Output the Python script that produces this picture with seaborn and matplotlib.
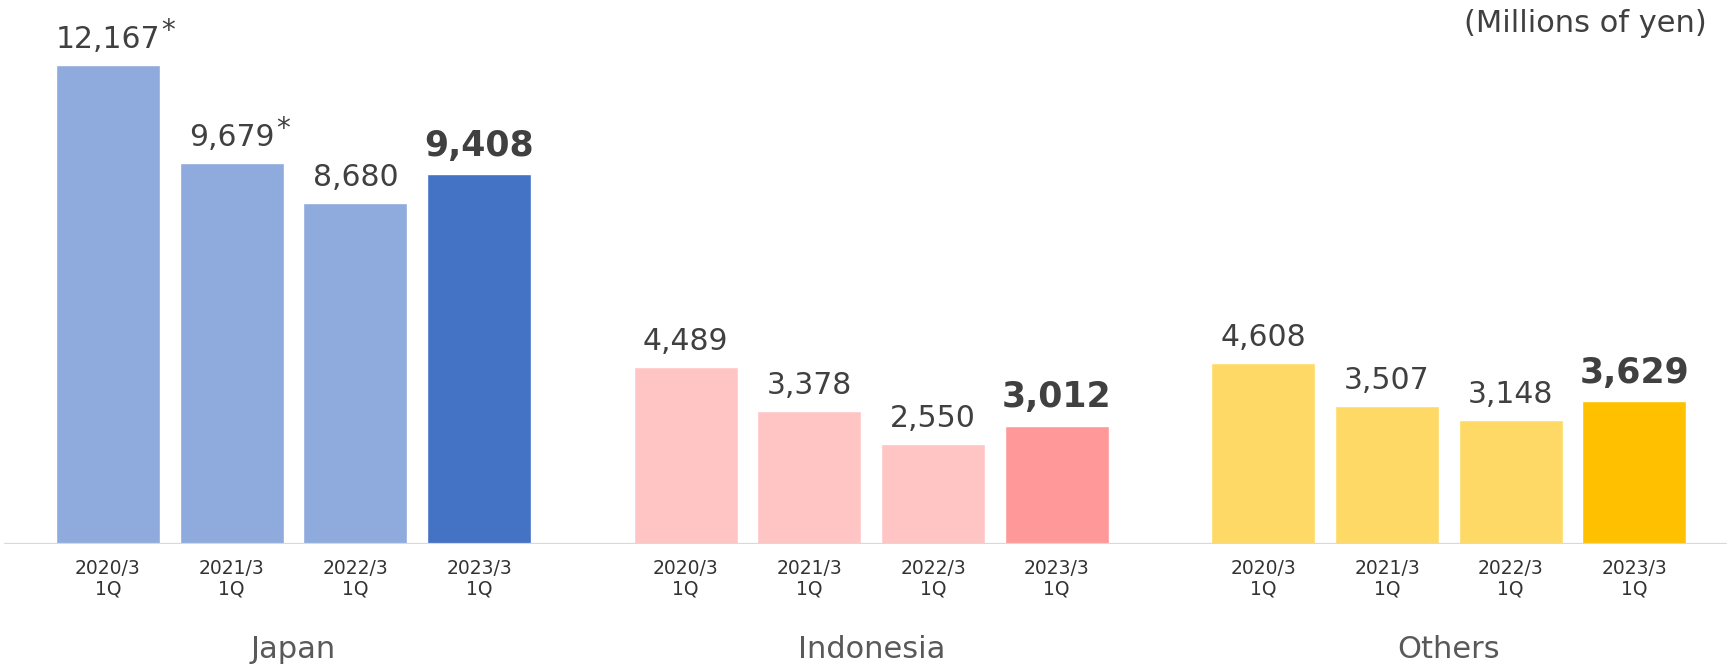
import pandas as pd
import matplotlib
matplotlib.use("Agg")
import matplotlib.pyplot as plt
import matplotlib.transforms as mtransforms
import seaborn as sns

# Data
regions = ["Japan", "Indonesia", "Others"]
periods = ["2020/3\n1Q", "2021/3\n1Q", "2022/3\n1Q", "2023/3\n1Q"]
japan = [12167, 9679, 8680, 9408]
indonesia = [4489, 3378, 2550, 3012]
others = [4608, 3507, 3148, 3629]
starred = {("Japan", 0), ("Japan", 1)}

light_colors = {"Japan": "#8FAADC", "Indonesia": "#FFC5C5", "Others": "#FFD966"}
dark_colors = {"Japan": "#4472C4", "Indonesia": "#FF9999", "Others": "#FFC000"}

group_step = 4.67  # slot distance between the first bars of neighbouring regions

rows = []
for g, (region, vals) in enumerate(zip(regions, [japan, indonesia, others])):
    for i, (period, v) in enumerate(zip(periods, vals)):
        rows.append({
            "region": region,
            "period": period,
            "idx": i,
            "pos": round(g * group_step + i, 2),
            "value": v,
            "key": f"{region} {i}",
            "color": dark_colors[region] if i == len(periods) - 1 else light_colors[region],
        })
df = pd.DataFrame(rows)

sns.set_style("white")
plt.rcParams["font.family"] = ["DejaVu Sans"]

fig = plt.figure(figsize=(17.33, 6.71), dpi=100)
ax = fig.add_axes([0, 127 / 671, 1, 544 / 671])

sns.barplot(
    data=df, x="pos", y="value", hue="key",
    palette=dict(zip(df["key"], df["color"])),
    native_scale=True, width=0.84, legend=False, saturation=1, ax=ax,
)

ax.set_xlim(-0.873, 13.137)
ax.set_ylim(0, 13832)
for s in ax.spines.values():
    s.set_visible(False)
ax.axhline(0, xmin=5 / 1733, xmax=1726 / 1733, color="#D9D9D9", lw=1.6, zorder=3)
ax.set_yticks([])
ax.set_ylabel("")
ax.set_xlabel("")
ax.set_xticks(df["pos"])
ax.set_xticklabels(df["period"], fontsize=13.5, color="#333333", linespacing=1.05)
ax.tick_params(axis="x", length=0, pad=11)

# Value labels
for _, r in df.iterrows():
    last = r["idx"] == len(periods) - 1
    t = ax.annotate(
        f"{r['value']:,}", xy=(r["pos"], r["value"]), xytext=(0, 8),
        textcoords="offset points", ha="center", va="bottom",
        fontsize=25 if last else 21.5, fontweight="bold" if last else "normal",
        color="#404040",
    )
    if (r["region"], r["idx"]) in starred:
        ax.annotate("*", xy=(1, 1), xycoords=t, xytext=(1, 6),
                    textcoords="offset points", ha="left", va="top",
                    fontsize=20, color="#404040")

# Region labels
trans = mtransforms.blended_transform_factory(ax.transData, fig.transFigure)
for region in regions:
    center = df.loc[df["region"] == region, "pos"].mean()
    ax.text(center, 21 / 671, region, transform=trans, ha="center", va="center",
            fontsize=22, color="#595959")

fig.text(1707 / 1733, 1 - 24 / 671, "(Millions of yen)", ha="right", va="center",
         fontsize=22, color="#404040")

fig.savefig("out.png", dpi=100)
